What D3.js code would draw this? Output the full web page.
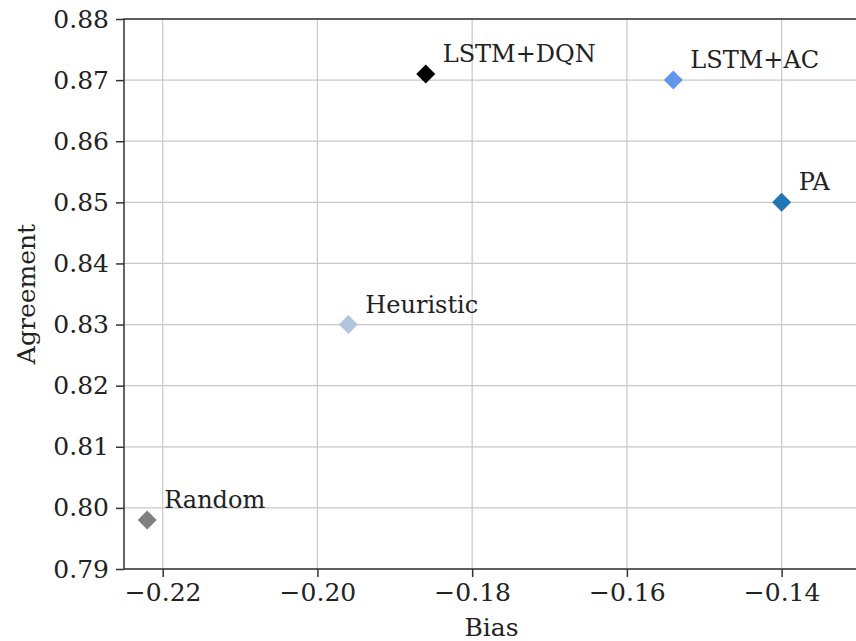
<!DOCTYPE html>
<html>
<head>
<meta charset="utf-8">
<script src="https://cdn.jsdelivr.net/npm/d3@7"></script>
<style>
  html, body { margin: 0; padding: 0; background: #fff; }
  svg { display: block; overflow: hidden; }
  text { font-family: "DejaVu Serif", serif; fill: #222; }
</style>
</head>
<body>
<svg id="chart" width="856" height="641"></svg>
<script>
const names = ["Random", "Heuristic", "LSTM+DQN", "LSTM+AC", "PA"];
const biasValues = [-0.222, -0.196, -0.186, -0.154, -0.140];
const agreementValues = [0.798, 0.830, 0.871, 0.870, 0.850];
const pointColors = ["#808080", "#b0c4de", "#000000", "#6495ed", "#1f77b4"];
const xTicks = [-0.22, -0.20, -0.18, -0.16, -0.14];
const yTicks = [0.79, 0.80, 0.81, 0.82, 0.83, 0.84, 0.85, 0.86, 0.87, 0.88];

const svg = d3.select("#chart");
const margin = { left: 124, top: 19, right: 859, bottom: 569 };

const x = d3.scaleLinear().domain([-0.225, -0.130]).range([margin.left, margin.right]);
const y = d3.scaleLinear().domain([0.79, 0.88]).range([margin.bottom, margin.top]);

const fmt = v => (v < 0 ? "\u2212" : "") + Math.abs(v).toFixed(2);

// grid
const grid = svg.append("g");
grid.selectAll(".gx").data(xTicks).join("line")
  .attr("x1", d => x(d)).attr("x2", d => x(d))
  .attr("y1", margin.top).attr("y2", margin.bottom)
  .attr("stroke", "#c8c8c8").attr("stroke-width", 1.2);
grid.selectAll(".gy").data(yTicks).join("line")
  .attr("x1", margin.left).attr("x2", margin.right)
  .attr("y1", d => y(d)).attr("y2", d => y(d))
  .attr("stroke", "#c8c8c8").attr("stroke-width", 1.2);

// axes
const xAxis = svg.append("g")
  .attr("transform", `translate(0,${margin.bottom})`)
  .call(d3.axisBottom(x).tickValues(xTicks).tickFormat(fmt).tickSize(8).tickPadding(6));
const yAxis = svg.append("g")
  .attr("transform", `translate(${margin.left},0)`)
  .call(d3.axisLeft(y).tickValues(yTicks).tickFormat(d => d.toFixed(2)).tickSize(8).tickPadding(7));

[xAxis, yAxis].forEach(a => {
  a.select(".domain").remove();
  a.selectAll(".tick line").attr("stroke", "#333").attr("stroke-width", 1.5);
  a.selectAll(".tick text").style("font-family", "DejaVu Serif, serif")
    .style("font-size", "25px").attr("fill", "#222");
});

// frame
svg.append("rect")
  .attr("x", margin.left).attr("y", margin.top)
  .attr("width", margin.right - margin.left).attr("height", margin.bottom - margin.top)
  .attr("fill", "none").attr("stroke", "#333").attr("stroke-width", 1.5);

// axis labels
svg.append("text")
  .attr("x", (margin.left + margin.right) / 2).attr("y", 636)
  .attr("text-anchor", "middle").style("font-size", "25px").text("Bias");
svg.append("text")
  .attr("transform", `translate(35,${(margin.top + margin.bottom) / 2}) rotate(-90)`)
  .attr("text-anchor", "middle").style("font-size", "25px").text("Agreement");

// points
const pts = names.map((n, i) => ({ name: n, bias: biasValues[i], agr: agreementValues[i], color: pointColors[i] }));
const sym = d3.symbol().type(d3.symbolSquare).size(180);
svg.append("g").selectAll("path").data(pts).join("path")
  .attr("d", sym)
  .attr("transform", d => `translate(${x(d.bias)},${y(d.agr)}) rotate(45)`)
  .attr("fill", d => d.color);

svg.append("g").selectAll("text").data(pts).join("text")
  .attr("x", d => x(d.bias) + 17)
  .attr("y", d => y(d.agr) - 12)
  .style("font-size", "24px")
  .text(d => d.name);
</script>
</body>
</html>
